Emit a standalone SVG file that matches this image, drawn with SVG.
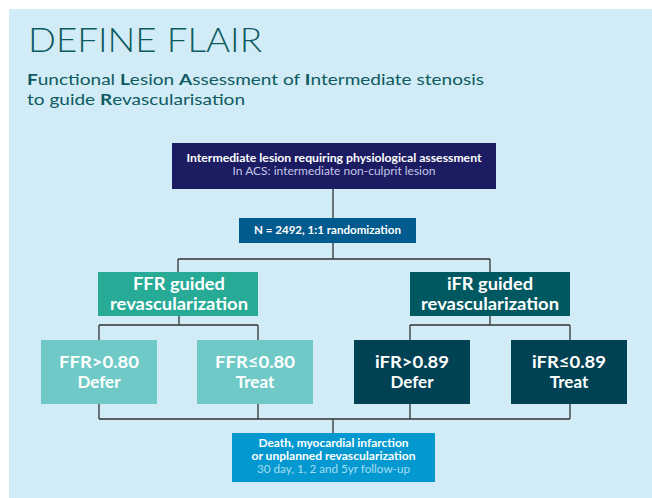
<svg xmlns="http://www.w3.org/2000/svg" width="652" height="498" viewBox="0 0 652 498">
<style>
text{font-family:Lato,"Open Sans","Liberation Sans",sans-serif;text-anchor:middle;fill:#ffffff}
.t{font-weight:300;text-anchor:start;fill:#0e5a61}
.s{font-size:15px;text-anchor:start;fill:#0e5a61}
.s tspan.b{font-weight:700}
.b11{font-size:11px;font-weight:700}
.r11{font-size:11px;font-weight:400}
.g{font-size:16.5px;font-weight:700}
.l{font-size:17px;font-weight:700}
.ln{fill:none;stroke:#333;stroke-width:1.3}
</style>
<rect x="9" y="9" width="643" height="489" fill="#d1ecf7"/>
<text class="t" x="28" y="52" font-size="33" textLength="234" lengthAdjust="spacingAndGlyphs">DEFINE FLAIR</text>
<text class="s" x="27" y="85" textLength="457" lengthAdjust="spacingAndGlyphs"><tspan class="b">F</tspan>unctional <tspan class="b">L</tspan>esion <tspan class="b">A</tspan>ssessment of <tspan class="b">I</tspan>ntermediate stenosis</text>
<text class="s" x="27" y="105" textLength="218" lengthAdjust="spacingAndGlyphs">to guide <tspan class="b">R</tspan>evascularisation</text>
<g id="connectors">
<path class="ln" d="M333 189V218M333 243V259M178 259H490M178 259V272M490 259V272"/>
<path class="ln" d="M179 316V325M99 325H258M99 325V340M258 325V340"/>
<path class="ln" d="M490 316V325M410 325H570M410 325V340M570 325V340"/>
<path class="ln" d="M99 404V419M258 404V419M410 404V419M570 404V419M99 419H570M333 419V433"/>
</g>
<g id="n-top">
<rect x="172" y="143" width="324" height="46" fill="#1b1c62"/>
<text class="b11" x="334" y="162" textLength="295" lengthAdjust="spacingAndGlyphs">Intermediate lesion requiring physiological assessment</text>
<text class="r11" x="334" y="175" fill="#c5c6e8" style="fill:#c5c6e8" textLength="203" lengthAdjust="spacingAndGlyphs">In ACS: intermediate non-culprit lesion</text>
</g>
<g id="n-rand">
<rect x="239" y="218" width="177" height="25" fill="#025b8e"/>
<text class="b11" x="327.5" y="234" textLength="147" lengthAdjust="spacingAndGlyphs">N = 2492, 1:1 randomization</text>
</g>
<g id="n-ffr">
<rect x="98" y="272" width="160" height="44" fill="#27ab97"/>
<text class="g" x="179" y="290" textLength="92" lengthAdjust="spacingAndGlyphs">FFR guided</text>
<text class="g" x="179" y="310" textLength="138" lengthAdjust="spacingAndGlyphs">revascularization</text>
</g>
<g id="n-ifr">
<rect x="410" y="272" width="160" height="44" fill="#005961"/>
<text class="g" x="490" y="290" textLength="86" lengthAdjust="spacingAndGlyphs">iFR guided</text>
<text class="g" x="490" y="310" textLength="138" lengthAdjust="spacingAndGlyphs">revascularization</text>
</g>
<g id="n-ffr-defer">
<rect x="41" y="340" width="116" height="64" fill="#6fcac7"/>
<text class="l" x="99" y="368" textLength="80" lengthAdjust="spacingAndGlyphs">FFR&gt;0.80</text>
<text class="l" x="99" y="388">Defer</text>
</g>
<g id="n-ffr-treat">
<rect x="197" y="340" width="116" height="64" fill="#6fcac7"/>
<text class="l" x="255" y="368" textLength="80" lengthAdjust="spacingAndGlyphs">FFR≤0.80</text>
<text class="l" x="255" y="388">Treat</text>
</g>
<g id="n-ifr-defer">
<rect x="354" y="340" width="116" height="64" fill="#004254"/>
<text class="l" x="412" y="368" textLength="74" lengthAdjust="spacingAndGlyphs">iFR&gt;0.89</text>
<text class="l" x="412" y="388">Defer</text>
</g>
<g id="n-ifr-treat">
<rect x="511" y="340" width="116" height="64" fill="#004254"/>
<text class="l" x="569" y="368" textLength="74" lengthAdjust="spacingAndGlyphs">iFR≤0.89</text>
<text class="l" x="569" y="388">Treat</text>
</g>
<g id="n-outcome">
<rect x="232" y="433" width="203" height="49" fill="#0399d0"/>
<text class="b11" x="333.5" y="447" textLength="150" lengthAdjust="spacingAndGlyphs">Death, myocardial infarction</text>
<text class="b11" x="333.5" y="460" textLength="164" lengthAdjust="spacingAndGlyphs">or unplanned revascularization</text>
<text class="r11" x="333.5" y="473" style="fill:#a6dcf2" textLength="153" lengthAdjust="spacingAndGlyphs">30 day, 1, 2 and 5yr follow-up</text>
</g>
</svg>
